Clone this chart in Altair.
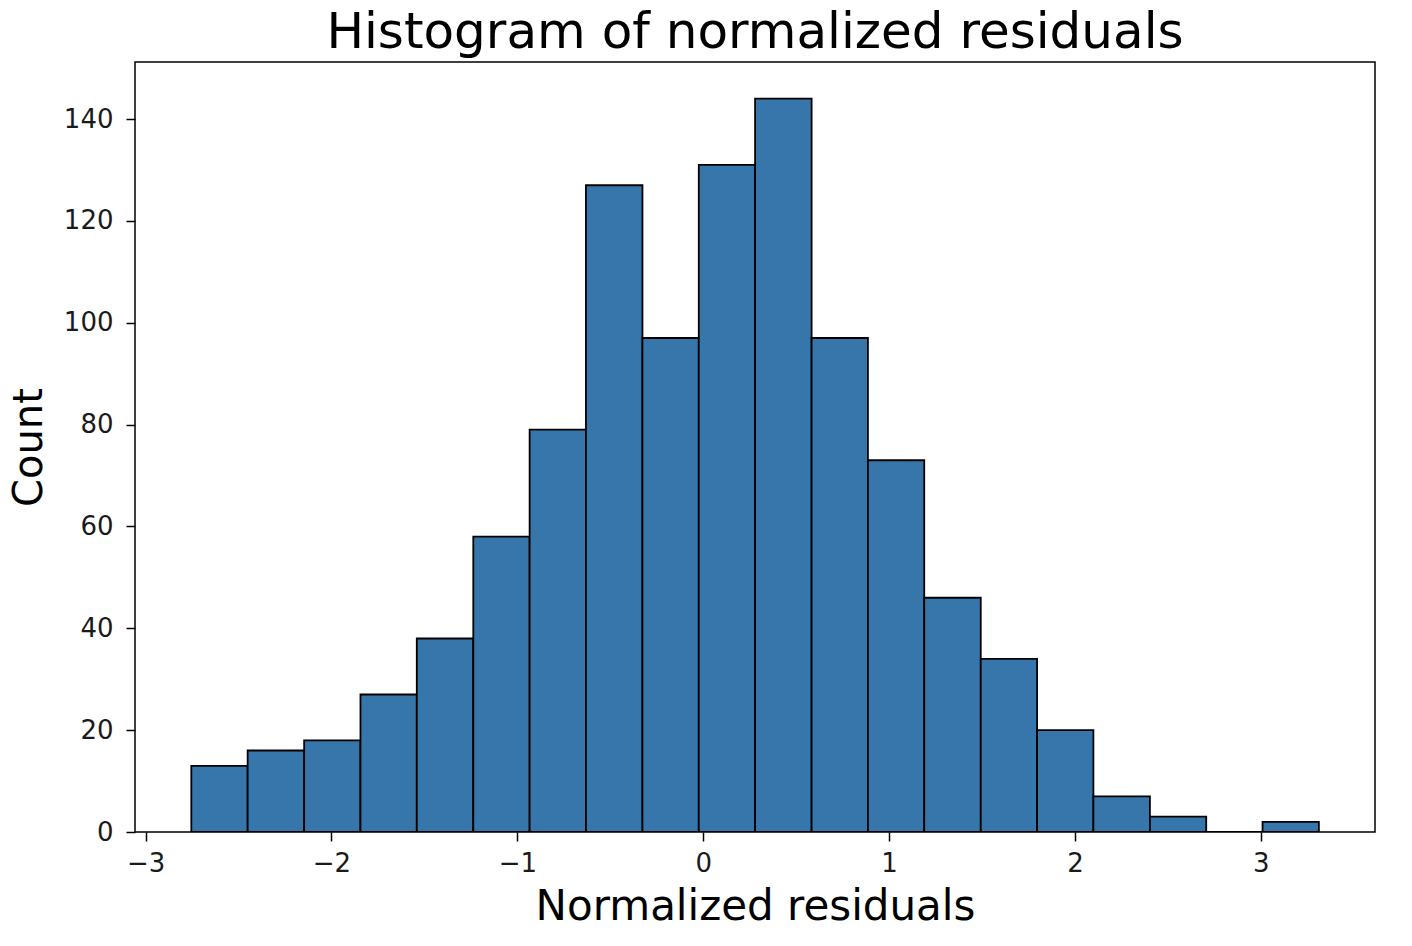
import altair as alt
import pandas as pd

bin_start = [-2.754, -2.451, -2.147, -1.844, -1.541, -1.237, -0.934, -0.631, -0.327, -0.024,
             0.279, 0.583, 0.886, 1.189, 1.493, 1.796, 2.099, 2.403, 2.706, 3.009]
bin_end = [-2.451, -2.147, -1.844, -1.541, -1.237, -0.934, -0.631, -0.327, -0.024, 0.279,
           0.583, 0.886, 1.189, 1.493, 1.796, 2.099, 2.403, 2.706, 3.009, 3.312]
counts = [13, 16, 18, 27, 38, 58, 79, 127, 97, 131, 144, 97, 73, 46, 34, 20, 7, 3, 0, 2]
x_ticks = [-3, -2, -1, 0, 1, 2, 3]
y_ticks = [0, 20, 40, 60, 80, 100, 120, 140]

df = pd.DataFrame({"start": bin_start, "end": bin_end, "count": counts})

FONT = "DejaVu Sans"

chart = (
    alt.Chart(df)
    .mark_bar(color="#3776ab", stroke="black", strokeWidth=1.8, clip=True)
    .encode(
        x=alt.X(
            "start:Q",
            scale=alt.Scale(domain=[-3.057, 3.614], nice=False, zero=False),
            axis=alt.Axis(
                title="Normalized residuals",
                values=x_ticks,
                format="d",
                grid=False,
                titleFontSize=42,
                titleFontWeight="normal",
                titlePadding=10,
                labelFontSize=26,
                labelPadding=9,
                tickSize=9,
                tickWidth=1.5,
                tickColor="black",
                domain=False,
                labelColor="#1a1a1a",
                titleColor="black",
            ),
        ),
        x2="end:Q",
        y=alt.Y(
            "count:Q",
            scale=alt.Scale(domain=[0, 151.2], nice=False),
            axis=alt.Axis(
                title="Count",
                values=y_ticks,
                grid=False,
                titleFontSize=40,
                titleFontWeight="normal",
                titlePadding=14,
                labelFontSize=26,
                labelPadding=13,
                tickSize=9,
                tickWidth=1.5,
                tickColor="black",
                domain=False,
                labelColor="#1a1a1a",
                titleColor="black",
            ),
        ),
        y2=alt.datum(0),
    )
    .properties(
        width=1240,
        height=770,
        title=alt.TitleParams(
            "Histogram of normalized residuals",
            fontSize=50,
            fontWeight="normal",
            font=FONT,
            anchor="middle",
            offset=4,
            color="black",
        ),
        autosize=alt.AutoSizeParams(type="none"),
        padding={"left": 127, "top": 54, "right": 20, "bottom": 100},
    )
    .configure(font=FONT)
    .configure_axis(labelFont=FONT, titleFont=FONT)
    .configure_view(stroke="black", strokeWidth=1.5)
)

chart.save("out.html", embed_options={"renderer": "svg", "actions": False})
